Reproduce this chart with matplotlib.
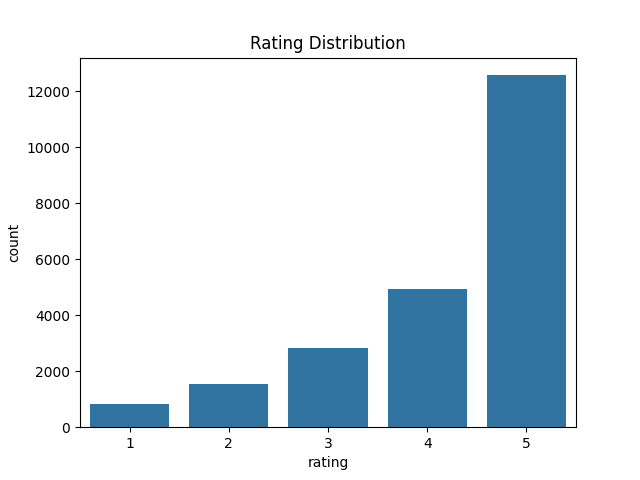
import matplotlib
matplotlib.use("Agg")
import matplotlib.pyplot as plt

ratings = ["1", "2", "3", "4", "5"]
counts = [820, 1540, 2820, 4930, 12570]

fig, ax = plt.subplots(figsize=(6.4, 4.8), dpi=100)
ax.bar(ratings, counts, width=0.8, color="#3274a1")
ax.set_xlim(-0.5, 4.5)
ax.set_title("Rating Distribution")
ax.set_xlabel("rating")
ax.set_ylabel("count")
fig.savefig("out.png")
